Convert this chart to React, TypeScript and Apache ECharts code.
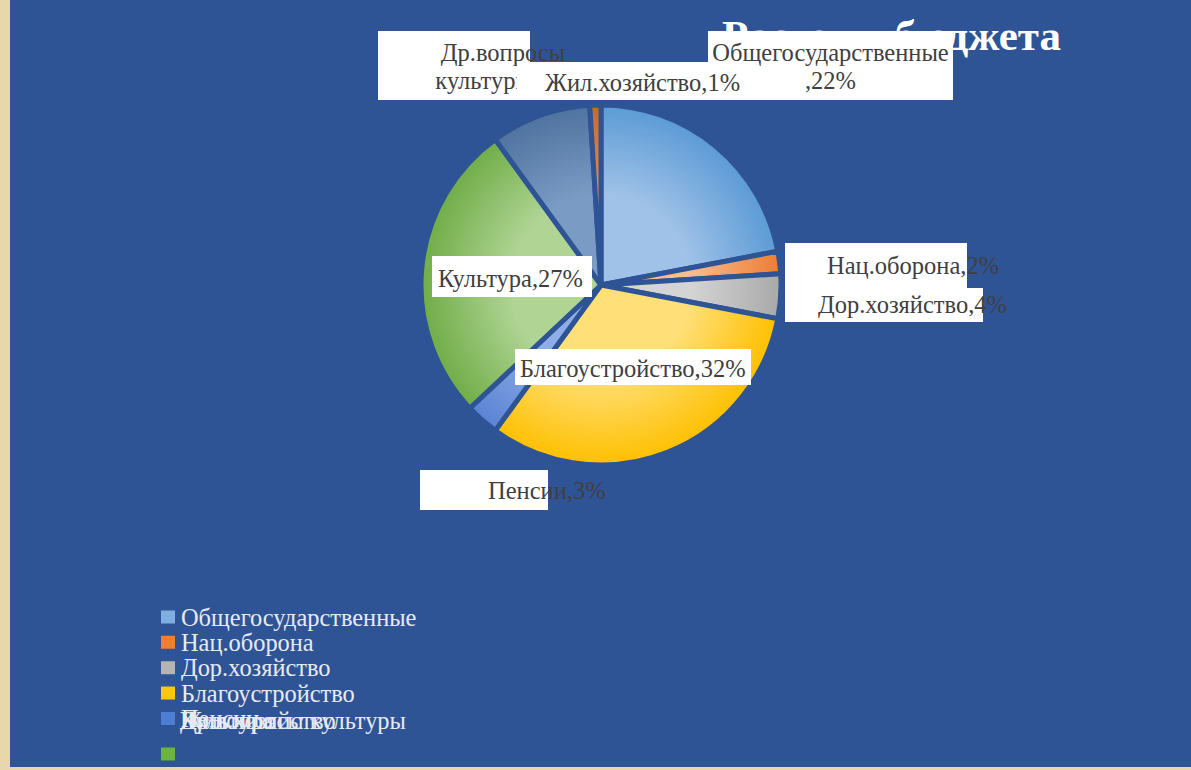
import React, { useEffect, useRef } from 'react';
import * as echarts from 'echarts';

// ---- data ----
const chartTitle = 'Расходы бюджета';
const categories = [
  'Общегосударственные',
  'Нац.оборона',
  'Дор.хозяйство',
  'Благоустройство',
  'Пенсии',
  'Культура',
  'Др.вопросы культуры',
  'Жил.хозяйство',
];
const shares = [22, 2, 4, 32, 3, 27, 9, 1];
const legendMain = categories.slice(0, 5);
const legendExtra = ['Культура'];
const legendOverlapTexts = ['Др.вопросы культуры', 'Культура', 'Жил.хозяйство'];

// ---- styles ----
const sliceLight = ['#A0C2E8', '#F8BC90', '#D4D4D4', '#FFDF78', '#8FAEE8', '#AFD494', '#7A9BC4', '#E48E52'];
const sliceDark = ['#5B9BD5', '#ED7D31', '#A9A9A9', '#FFC000', '#5A83D3', '#70AD47', '#4F739F', '#C8692A'];
const legendColors = ['#7FAEE0', '#F07F32', '#B4B4B4', '#FFC610', '#4E7ED2', '#6DB43C'];
const BG = '#2E5496';
const FONT = 'Liberation Serif';
const LABEL_SIZE = 24.5;
const LEGEND_SIZE = 24.4;
const PIE_CX = 591;
const PIE_CY = 285;
const PIE_R = 180;

// label box layout (chart pixel coords)
const labelBoxes = [
  { x: 820.5, y: 31, align: 'center', padding: [7, 0, 6, 0], width: 245, lineHeight: 28 },
  { x: 775, y: 243, align: 'left', padding: [9, 0, 12, 42], width: 140, lineHeight: 26 },
  { x: 775, y: 288, align: 'left', padding: [3, 0, 5, 33], width: 165, lineHeight: 26 },
  { x: 505, y: 349, align: 'left', padding: [6, 0, 4, 5], width: 231, lineHeight: 26 },
  { x: 410, y: 470, align: 'left', padding: [7, 0, 7, 68], width: 60, lineHeight: 26 },
  { x: 422, y: 256, align: 'left', padding: [9, 0, 6, 6], width: 154, lineHeight: 26 },
  { x: 444, y: 31, align: 'center', padding: [7, 2, 6, 100], width: 50, lineHeight: 28 },
  { x: 507, y: 62, align: 'left', padding: [7, 0, 5, 28], width: 163, lineHeight: 26 },
];

function labelText(i: number): string {
  if (i === 0) return `${categories[i]}\n,${shares[i]}%`;
  if (i === 6) return `${categories[i].replace(' ', '\n')},${shares[i]}%`;
  return `${categories[i]},${shares[i]}%`;
}

export default function App() {
  const ref = useRef<HTMLDivElement>(null);

  useEffect(() => {
    document.body.style.margin = '0';
    document.body.style.overflow = 'hidden';
    const chart = echarts.init(ref.current!, null, { renderer: 'svg' });

    const data = categories.map((name, i) => ({
      name,
      value: shares[i],
      itemStyle: {
        color: {
          type: 'radial',
          x: PIE_CX,
          y: PIE_CY,
          r: PIE_R,
          global: true,
          colorStops: [
            { offset: 0, color: sliceLight[i] },
            { offset: 0.5, color: sliceLight[i] },
            { offset: 1, color: sliceDark[i] },
          ],
        },
      },
      label: {
        padding: labelBoxes[i].padding,
        width: labelBoxes[i].width,
        lineHeight: labelBoxes[i].lineHeight,
        align: labelBoxes[i].align,
      },
    }));

    const legendBase = {
      orient: 'vertical',
      left: 149,
      padding: 0,
      icon: 'rect',
      itemWidth: 16,
      itemHeight: 15,
      selectedMode: false,
      textStyle: { color: '#E8EAF2', fontSize: LEGEND_SIZE, fontFamily: FONT },
    };

    const option: any = {
      animation: false,
      backgroundColor: BG,
      title: {
        text: chartTitle,
        left: 712,
        top: 13.5,
        padding: 0,
        z: 1,
        textStyle: { color: '#FFFFFF', fontSize: 43, fontWeight: 'bold', fontFamily: FONT },
      },
      legend: [
        {
          ...legendBase,
          data: legendMain.map((n, i) => ({ name: n, itemStyle: { color: legendColors[i] } })),
          top: 605,
          itemGap: 1.35,
        },
        {
          ...legendBase,
          data: legendExtra.map((n) => ({ name: n, itemStyle: { color: legendColors[5] } })),
          top: 745.5,
          formatter: () => '',
        },
      ],
      graphic: legendOverlapTexts.map((t) => ({
        type: 'text',
        x: 170,
        y: 720,
        z: 100,
        style: { text: t, fill: '#E8EAF2', fontSize: LEGEND_SIZE, fontFamily: FONT, verticalAlign: 'middle' },
      })),
      series: [
        {
          type: 'pie',
          z: 5,
          center: [PIE_CX, PIE_CY],
          radius: PIE_R,
          startAngle: 90,
          clockwise: true,
          avoidLabelOverlap: false,
          itemStyle: { borderColor: BG, borderWidth: 5 },
          label: {
            show: true,
            position: 'outside',
            formatter: (p: any) => labelText(p.dataIndex),
            color: '#404040',
            fontSize: LABEL_SIZE,
            fontFamily: FONT,
            backgroundColor: '#FFFFFF',
            overflow: 'none',
          },
          labelLine: { show: false },
          labelLayout: (params: any) => {
            const b = labelBoxes[params.dataIndex];
            return { x: b.x, y: b.y, align: b.align, verticalAlign: 'top' };
          },
          emphasis: { disabled: true },
          data,
        },
      ],
    };

    chart.setOption(option);
    return () => chart.dispose();
  }, []);

  return (
    <div style={{ position: 'relative', width: 1191, height: 770, background: '#E9D7AC' }}>
      <div ref={ref} style={{ position: 'absolute', left: 10, top: 0, width: 1181, height: 767 }} />
    </div>
  );
}
